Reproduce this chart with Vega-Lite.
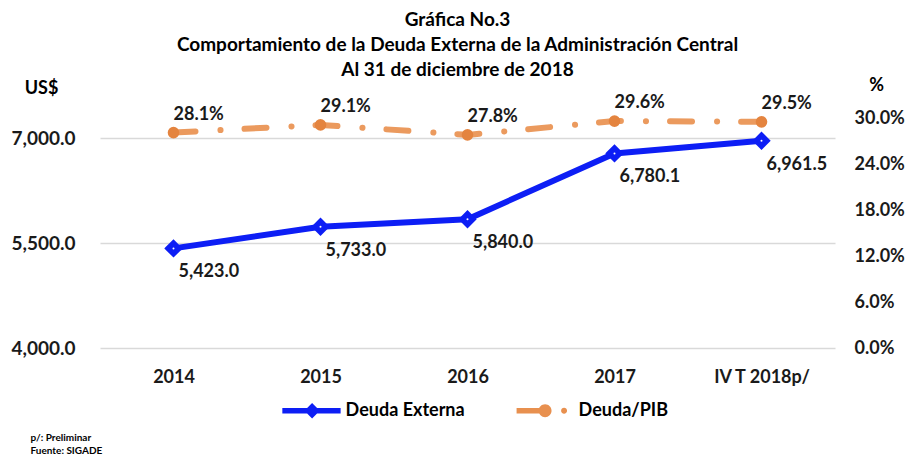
{
  "$schema": "https://vega.github.io/schema/vega-lite/v6.json",
  "width": 735,
  "height": 230,
  "autosize": "none",
  "padding": {"left": 100, "top": 118, "right": 75, "bottom": 111},
  "background": "white",
  "config": {"view": {"stroke": null}, "font": "Lato"},
  "title": {
    "text": ["Gráfica No.3", "Comportamiento de la Deuda Externa de la Administración Central", "Al 31 de diciembre de 2018"],
    "anchor": "middle",
    "frame": "group",
    "dx": -10,
    "font": "Lato",
    "fontSize": 19,
    "fontWeight": "bold",
    "color": "#000000",
    "lineHeight": 25,
    "offset": -4
  },
  "data": {
    "values": [
      {"periodo": "2014", "deuda": 5423.0, "pib": 0.281},
      {"periodo": "2015", "deuda": 5733.0, "pib": 0.291},
      {"periodo": "2016", "deuda": 5840.0, "pib": 0.278},
      {"periodo": "2017", "deuda": 6780.1, "pib": 0.296},
      {"periodo": "IV T 2018p/", "deuda": 6961.5, "pib": 0.295}
    ]
  },
  "encoding": {
    "x": {
      "field": "periodo",
      "type": "ordinal",
      "sort": null,
      "scale": {"type": "point", "padding": 0.5},
      "axis": {
        "title": ["p/: Preliminar", "Fuente: SIGADE"],
        "titleX": -70,
        "titleY": 84,
        "titleAlign": "left",
        "titleBaseline": "top",
        "titleFont": "Lato",
        "titleFontSize": 10,
        "titleFontWeight": "bold",
        "titleLineHeight": 13,
        "titleColor": "#000000",
        "labelAngle": 0,
        "labelPadding": 20,
        "labelFont": "Lato",
        "labelFontSize": 18,
        "labelFontWeight": "bold",
        "labelColor": "#1a1a1a",
        "domain": false,
        "ticks": false,
        "grid": false
      }
    }
  },
  "layer": [
    {
      "encoding": {
        "y": {
          "field": "deuda",
          "type": "quantitative",
          "scale": {"domain": [4000, 7286], "nice": false, "zero": false},
          "axis": {
            "orient": "left",
            "values": [4000, 5500, 7000],
            "format": ",.1f",
            "grid": true,
            "gridColor": "#D9D9D9",
            "gridWidth": 1.5,
            "domain": false,
            "ticks": false,
            "labelPadding": 25,
            "labelFont": "Lato",
            "labelFontSize": 19,
            "labelFontWeight": "bold",
            "labelColor": "#1a1a1a",
            "title": "US$",
            "titleAngle": 0,
            "titleX": -59,
            "titleY": -30,
            "titleAlign": "center",
            "titleBaseline": "middle",
            "titleFont": "Lato",
            "titleFontSize": 18,
            "titleFontWeight": "bold",
            "titleColor": "#000000"
          }
        }
      },
      "layer": [
        {
          "mark": {"type": "line", "strokeWidth": 6, "strokeJoin": "round"},
          "encoding": {
            "color": {
              "datum": "Deuda Externa",
              "scale": {"domain": ["Deuda Externa", "Deuda/PIB"], "range": ["#0D1EF5", "#EB9A5E"]},
              "legend": {
                "orient": "none",
                "legendX": 199.6,
                "legendY": 280,
                "direction": "horizontal",
                "title": null,
                "symbolSize": 615,
                "labelOffset": 21,
                "columnPadding": 50,
                "padding": 0,
                "labelFont": "Lato",
                "labelFontSize": 18,
                "labelFontWeight": "bold",
                "labelColor": "#000000",
                "encode": {
                  "symbols": {
                    "update": {
                      "shape": {"signal": "datum.value === 'Deuda Externa' ? 'M-2.4,-0.22L2.3,-0.22L2.3,0.22L-2.4,0.22Z M0,-0.62L0.62,0L0,0.62L-0.62,0Z' : 'M-2.3,-0.22L0,-0.22L0,0.22L-2.3,0.22Z M-0.52,0A0.52,0.52 0 1,1 0.52,0A0.52,0.52 0 1,1 -0.52,0Z M1.29,0A0.24,0.24 0 1,1 1.77,0A0.24,0.24 0 1,1 1.29,0Z'"},
                      "fill": {"signal": "datum.value === 'Deuda Externa' ? '#0D1EF5' : '#E8904F'"},
                      "stroke": {"value": "transparent"},
                      "strokeWidth": {"value": 0},
                      "opacity": {"value": 1}
                    }
                  }
                }
              }
            }
          }
        },
        {
          "mark": {"type": "point", "filled": true, "shape": "diamond", "size": 200, "fill": "#0D1EF5", "stroke": "#0D1EF5", "strokeWidth": 3, "opacity": 1}
        },
        {
          "mark": {"type": "point", "filled": true, "shape": "circle", "size": 4, "color": "white", "opacity": 1}
        },
        {
          "mark": {"type": "text", "align": "left", "baseline": "middle", "dx": 5, "dy": 24, "font": "Lato", "fontSize": 18, "fontWeight": "bold", "color": "#1a1a1a"},
          "encoding": {"text": {"field": "deuda", "type": "quantitative", "format": ",.1f"}}
        }
      ]
    },
    {
      "encoding": {
        "y": {
          "field": "pib",
          "type": "quantitative",
          "scale": {"domain": [0, 0.30], "nice": false, "zero": true},
          "axis": {
            "orient": "right",
            "values": [0, 0.06, 0.12, 0.18, 0.24, 0.30],
            "format": ".1%",
            "grid": false,
            "domain": false,
            "ticks": false,
            "labelPadding": 19,
            "labelFont": "Lato",
            "labelFontSize": 18,
            "labelFontWeight": "bold",
            "labelColor": "#1a1a1a",
            "title": "%",
            "titleAngle": 0,
            "titleX": 41,
            "titleY": -33,
            "titleAlign": "center",
            "titleBaseline": "middle",
            "titleFont": "Lato",
            "titleFontSize": 18,
            "titleFontWeight": "bold",
            "titleColor": "#000000"
          }
        }
      },
      "layer": [
        {
          "mark": {"type": "line", "strokeWidth": 6, "strokeCap": "round", "strokeDash": [22, 25, 0.1, 24]},
          "encoding": {
            "color": {
              "datum": "Deuda/PIB",
              "scale": {"domain": ["Deuda Externa", "Deuda/PIB"], "range": ["#0D1EF5", "#EB9A5E"]}
            }
          }
        },
        {
          "mark": {"type": "point", "filled": true, "shape": "circle", "size": 135, "color": "#E4843F", "opacity": 1}
        },
        {
          "mark": {"type": "text", "align": "left", "baseline": "middle", "dx": 0, "dy": -18, "font": "Lato", "fontSize": 18, "fontWeight": "bold", "color": "#1a1a1a"},
          "encoding": {"text": {"field": "pib", "type": "quantitative", "format": ".1%"}}
        }
      ]
    }
  ],
  "resolve": {"scale": {"y": "independent"}}
}
